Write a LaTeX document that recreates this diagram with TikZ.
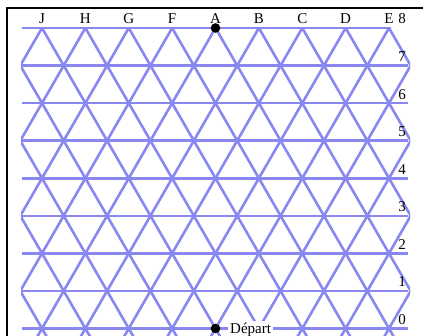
\documentclass[tikz,border=0pt]{standalone}
\usepackage{fontspec}
\setmainfont{Liberation Serif}
\definecolor{gridblue}{RGB}{136,136,240}
\begin{document}
\begin{tikzpicture}[x=1pt,y=1pt,
  gridline/.style={draw=gridblue, line width=2.6pt},
  lab/.style={font=\fontsize{15}{18}\selectfont, inner sep=0pt, anchor=base},
  dot/.style={fill=black},
  frameline/.style={draw=black, line width=2.2pt}]
\useasboundingbox (0,0) rectangle (423,336);
\def\dx{43.375}
\def\hh{37.564}
\def\yz{7.5}
% diagonals
\begin{scope}
  \clip (21,0) rectangle (410,{\yz+8*\hh});
  \foreach \k in {-5,...,9} {
    \draw[gridline] ({42+\k*\dx-0.5*\dx},{\yz-\hh}) -- ({42+\k*\dx+4.5*\dx},{\yz+9*\hh});
  }
  \foreach \k in {0,...,14} {
    \draw[gridline] ({42+\k*\dx+0.5*\dx},{\yz-\hh}) -- ({42+\k*\dx-4.5*\dx},{\yz+9*\hh});
  }
\end{scope}
% horizontal rows
\foreach \r in {0,...,7} {
  \draw[gridline] (22,{\yz+\r*\hh}) -- (408,{\yz+\r*\hh});
}
\draw[gridline] (22,{\yz+8*\hh}) -- (389,{\yz+8*\hh});
% column letters
\foreach \l [count=\i from 0] in {J,H,G,F,A,B,C,D,E} {
  \node[lab] (col\l) at ({42+\i*\dx},{\yz+8*\hh+4}) {\l};
}
% row numbers
\foreach \r in {0,...,8} {
  \node[lab] (row\r) at (402,{\yz+\r*\hh+4}) {\r};
}
% points
\fill[dot] ({42+4*\dx},{\yz+8*\hh}) circle (4.8);
\node[lab, anchor=base west, fill=white, inner sep=2pt] (depart) at (228,{\yz-5}) {Départ};
\fill[dot] ({42+4*\dx},{\yz}) circle (4.8);
% frame
\draw[frameline] (7.3,-2) -- (7.3,328) -- (425,328);
\end{tikzpicture}
\end{document}
